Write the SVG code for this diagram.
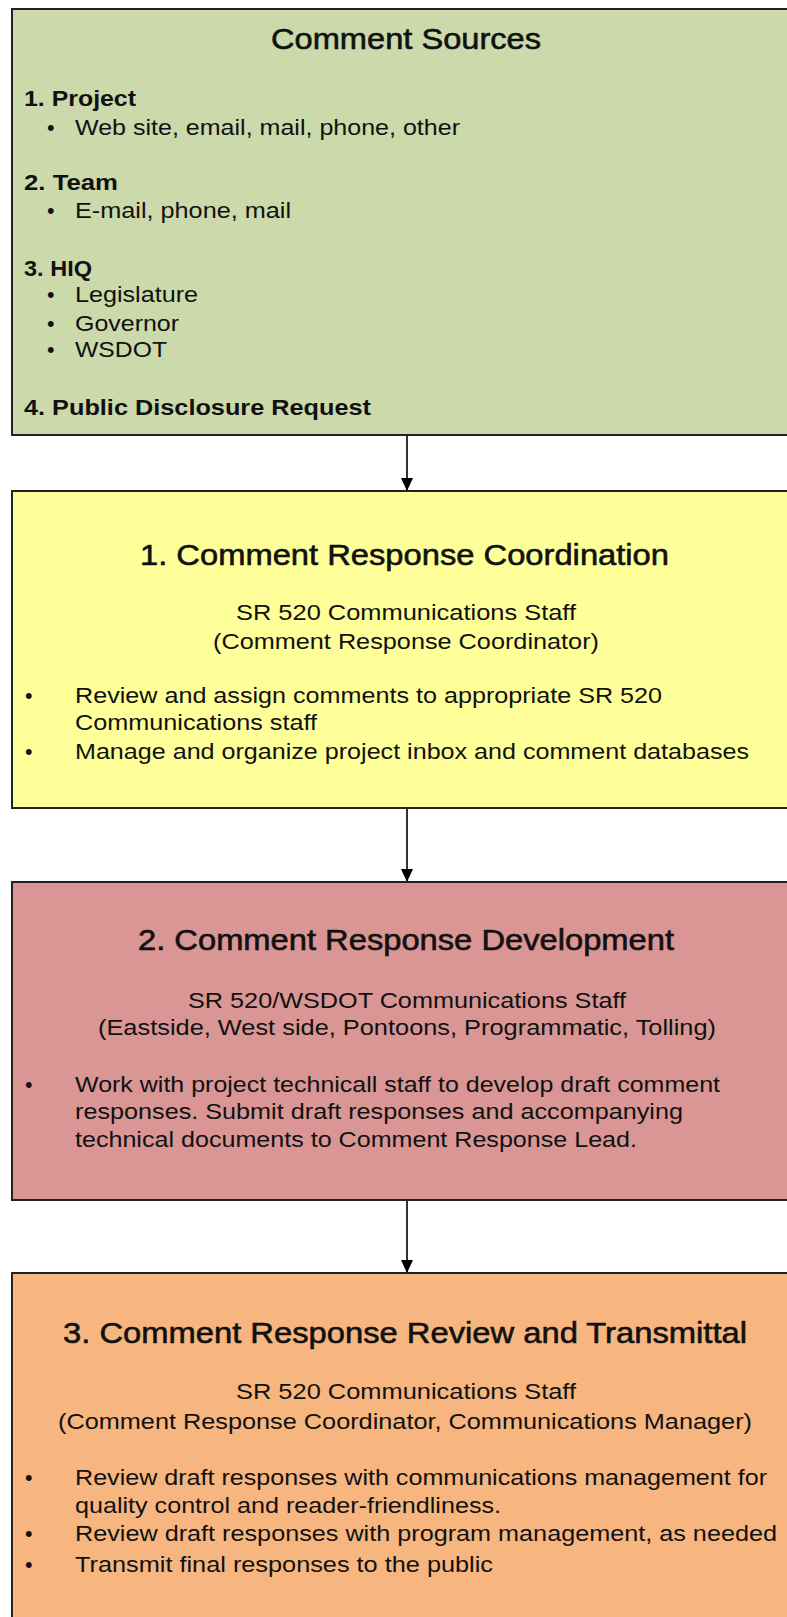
<svg xmlns="http://www.w3.org/2000/svg" width="787" height="1617" viewBox="0 0 787 1617">
<style>
text{font-family:"Liberation Sans",Arial,sans-serif;fill:#111}
.h{font-size:30px;stroke:#111;stroke-width:0.6}
.b{font-size:21.5px;font-weight:bold}
.t{font-size:21.5px}
.box{stroke:#222;stroke-width:2}
.c{stroke:#000;stroke-width:1.6;fill:none}
</style>
<defs>
<marker id="ah" viewBox="0 0 12 13" refX="12" refY="6" markerWidth="12" markerHeight="13" markerUnits="userSpaceOnUse" orient="auto">
<path d="M0,0 L13,6 L0,12 Z" fill="#000"/>
</marker>
</defs>
<g id="sources">
<rect class="box" x="12" y="9" width="800" height="426" fill="#CCD9AA"/>
<text class="h" x="271" y="49" textLength="270" lengthAdjust="spacingAndGlyphs">Comment Sources</text>
<text class="b" x="24" y="106" textLength="112" lengthAdjust="spacingAndGlyphs">1. Project</text>
<text class="t" x="47" y="135">•</text>
<text class="t" x="75" y="135" textLength="385" lengthAdjust="spacingAndGlyphs">Web site, email, mail, phone, other</text>
<text class="b" x="24" y="190" textLength="94" lengthAdjust="spacingAndGlyphs">2. Team</text>
<text class="t" x="47" y="218">•</text>
<text class="t" x="75" y="218" textLength="216" lengthAdjust="spacingAndGlyphs">E-mail, phone, mail</text>
<text class="b" x="24" y="276" textLength="68" lengthAdjust="spacingAndGlyphs">3. HIQ</text>
<text class="t" x="47" y="302">•</text>
<text class="t" x="75" y="302" textLength="123" lengthAdjust="spacingAndGlyphs">Legislature</text>
<text class="t" x="47" y="331">•</text>
<text class="t" x="75" y="331" textLength="104" lengthAdjust="spacingAndGlyphs">Governor</text>
<text class="t" x="47" y="357">•</text>
<text class="t" x="75" y="357" textLength="92" lengthAdjust="spacingAndGlyphs">WSDOT</text>
<text class="b" x="24" y="415" textLength="347" lengthAdjust="spacingAndGlyphs">4. Public Disclosure Request</text>
</g>
<g id="coordination">
<rect class="box" x="12" y="491" width="800" height="317" fill="#FFFF99"/>
<text class="h" x="140" y="565" textLength="529" lengthAdjust="spacingAndGlyphs">1. Comment Response Coordination</text>
<text class="t" x="236" y="620" textLength="340" lengthAdjust="spacingAndGlyphs">SR 520 Communications Staff</text>
<text class="t" x="213" y="649" textLength="386" lengthAdjust="spacingAndGlyphs">(Comment Response Coordinator)</text>
<text class="t" x="25" y="703">•</text>
<text class="t" x="75" y="703" textLength="587" lengthAdjust="spacingAndGlyphs">Review and assign comments to appropriate SR 520</text>
<text class="t" x="75" y="730" textLength="242" lengthAdjust="spacingAndGlyphs">Communications staff</text>
<text class="t" x="25" y="759">•</text>
<text class="t" x="75" y="759" textLength="674" lengthAdjust="spacingAndGlyphs">Manage and organize project inbox and comment databases</text>
</g>
<g id="development">
<rect class="box" x="12" y="882" width="800" height="318" fill="#D99694"/>
<text class="h" x="138" y="950" textLength="536" lengthAdjust="spacingAndGlyphs">2. Comment Response Development</text>
<text class="t" x="188" y="1008" textLength="438" lengthAdjust="spacingAndGlyphs">SR 520/WSDOT Communications Staff</text>
<text class="t" x="98" y="1035" textLength="618" lengthAdjust="spacingAndGlyphs">(Eastside, West side, Pontoons, Programmatic, Tolling)</text>
<text class="t" x="25" y="1092">•</text>
<text class="t" x="75" y="1092" textLength="645" lengthAdjust="spacingAndGlyphs">Work with project technicall staff to develop draft comment</text>
<text class="t" x="75" y="1119" textLength="608" lengthAdjust="spacingAndGlyphs">responses. Submit draft responses and accompanying</text>
<text class="t" x="75" y="1147" textLength="562" lengthAdjust="spacingAndGlyphs">technical documents to Comment Response Lead.</text>
</g>
<g id="review">
<rect class="box" x="12" y="1273" width="800" height="360" fill="#F7B680"/>
<text class="h" x="63" y="1343" textLength="684" lengthAdjust="spacingAndGlyphs">3. Comment Response Review and Transmittal</text>
<text class="t" x="236" y="1399" textLength="340" lengthAdjust="spacingAndGlyphs">SR 520 Communications Staff</text>
<text class="t" x="58" y="1429" textLength="694" lengthAdjust="spacingAndGlyphs">(Comment Response Coordinator, Communications Manager)</text>
<text class="t" x="25" y="1485">•</text>
<text class="t" x="75" y="1485" textLength="692" lengthAdjust="spacingAndGlyphs">Review draft responses with communications management for</text>
<text class="t" x="75" y="1513" textLength="426" lengthAdjust="spacingAndGlyphs">quality control and reader-friendliness.</text>
<text class="t" x="25" y="1541">•</text>
<text class="t" x="75" y="1541" textLength="702" lengthAdjust="spacingAndGlyphs">Review draft responses with program management, as needed</text>
<text class="t" x="25" y="1572">•</text>
<text class="t" x="75" y="1572" textLength="418" lengthAdjust="spacingAndGlyphs">Transmit final responses to the public</text>
</g>
<g id="connectors">
<line class="c" x1="407" y1="436" x2="407" y2="490" marker-end="url(#ah)"/>
<line class="c" x1="407" y1="809" x2="407" y2="881" marker-end="url(#ah)"/>
<line class="c" x1="407" y1="1201" x2="407" y2="1272" marker-end="url(#ah)"/>
</g>
</svg>
